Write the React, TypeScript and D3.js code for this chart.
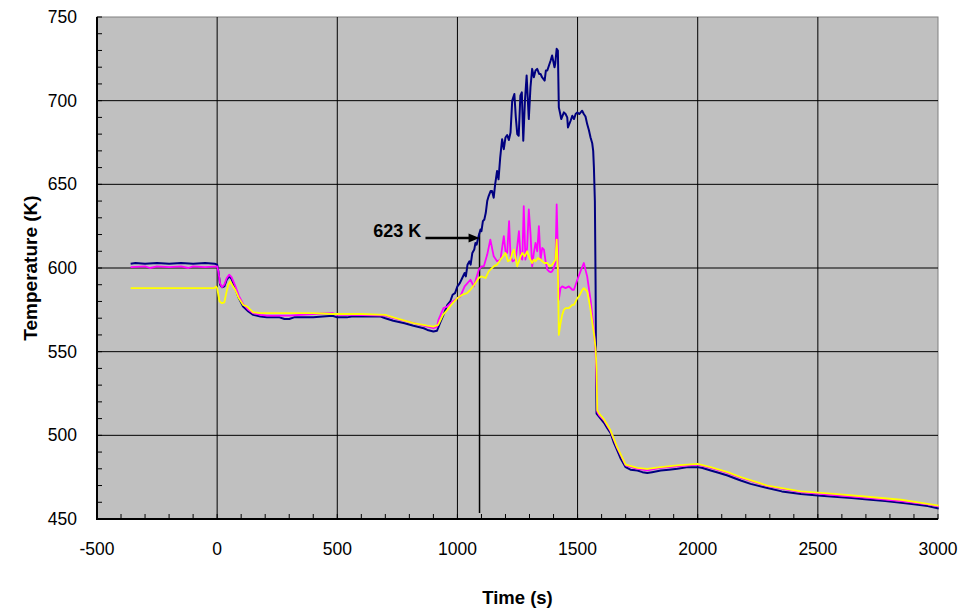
import React from "react";
import * as d3 from "d3";

// series 1 (navy)
const navyTime = [-360, -340, -300, -250, -200, -150, -100, -50, -10, 0, 5, 12, 20, 30, 40, 50, 60, 75, 90, 108, 130, 150, 180, 207, 260, 280, 300, 320, 400, 480, 500, 540, 560, 680, 700, 733, 780, 817, 860, 875, 900, 915, 930, 945, 958, 970, 980, 990, 1000, 1010, 1020, 1030, 1035, 1042, 1050, 1055, 1062, 1070, 1075, 1080, 1088, 1096, 1100, 1106, 1112, 1118, 1124, 1130, 1138, 1144, 1151, 1157, 1165, 1171, 1178, 1186, 1193, 1200, 1207, 1214, 1221, 1228, 1237, 1243, 1249, 1255, 1262, 1268, 1274, 1281, 1288, 1297, 1304, 1311, 1318, 1325, 1332, 1340, 1346, 1352, 1363, 1368, 1374, 1381, 1388, 1394, 1404, 1407, 1413, 1418, 1422, 1428, 1432, 1443, 1450, 1457, 1460, 1471, 1478, 1485, 1492, 1499, 1507, 1519, 1526, 1533, 1540, 1547, 1554, 1561, 1565, 1568, 1572, 1575, 1577, 1579, 1590, 1610, 1625, 1637, 1650, 1665, 1680, 1700, 1720, 1749, 1770, 1790, 1810, 1846, 1880, 1915, 1960, 1999, 2020, 2054, 2090, 2124, 2151, 2179, 2220, 2290, 2350, 2429, 2500, 2568, 2640, 2707, 2780, 2846, 2900, 2957, 3003];
const navyTemp = [602.5, 603, 602.5, 603, 602.5, 603, 602.5, 603, 602.5, 602, 598, 590, 588.5, 589, 593, 595, 593.5, 588, 582, 577, 574, 572, 571, 570.5, 570.5, 569.5, 569.5, 570.5, 570.5, 571.5, 570.5, 570.5, 571, 571, 570, 568.5, 567, 565.5, 564, 563, 562, 562.5, 568, 573, 578, 580, 584, 585, 589, 591, 594, 597, 595, 602, 604, 602, 609, 611, 615, 614, 619, 623, 622, 628, 629, 633, 640, 643, 646, 646, 642, 650, 658, 653, 666, 677, 671, 678, 679.5, 676.5, 681, 700, 704, 690, 680, 679, 703, 705, 676, 700, 715, 689, 708, 719, 714, 718, 719, 716, 716, 714, 712, 718, 718, 721, 724, 727, 720, 722, 731, 730, 696, 692, 689, 693, 692, 690, 684, 688, 691, 689, 692, 693, 692, 694, 692, 690.5, 686, 682.5, 678, 674.5, 670, 660, 640, 590, 540, 513, 511, 507.5, 504, 501.5, 496, 491, 486, 481, 479.5, 479, 478, 477.5, 478, 479, 479.5, 480, 481, 481, 480.5, 479, 477.5, 476, 474.5, 473, 471, 468.5, 466.5, 465, 464, 463.3, 462.5, 461.7, 460.8, 459.7, 458.8, 457.7, 456.3];

// series 2 (magenta)
const magentaTime = [-360, -300, -280, -250, -200, -150, -120, -100, -50, 0, 5, 12, 20, 30, 40, 50, 60, 75, 90, 108, 130, 150, 180, 207, 300, 400, 480, 500, 560, 700, 733, 817, 875, 900, 915, 921, 942, 958, 980, 1000, 1012, 1030, 1054, 1068, 1089, 1100, 1110, 1124, 1137, 1151, 1165, 1179, 1186, 1193, 1200, 1207, 1215, 1221, 1230, 1242, 1249, 1256, 1263, 1270, 1276, 1283, 1290, 1297, 1304, 1311, 1318, 1325, 1332, 1339, 1346, 1353, 1360, 1367, 1374, 1381, 1388, 1394, 1401, 1408, 1413, 1418, 1421, 1422, 1429, 1436, 1450, 1464, 1478, 1485, 1492, 1499, 1512, 1526, 1533, 1540, 1547, 1554, 1561, 1568, 1575, 1579, 1582, 1590, 1610, 1637, 1665, 1700, 1749, 1790, 1846, 1915, 1999, 2054, 2124, 2179, 2290, 2429, 2568, 2707, 2846, 2957, 3003];
const magentaTemp = [600.5, 601, 600, 601, 600.5, 601, 600, 601, 600.5, 601, 598, 591, 588.5, 590, 594, 596, 594.5, 589.5, 583.5, 578.5, 575, 573, 572, 571.5, 571.5, 572.5, 573, 572, 572, 571.5, 570, 567, 565, 564, 565, 569, 576, 577, 580, 582, 583, 589, 593, 589, 599, 601, 601, 608, 617, 607, 604, 605, 612, 619, 610, 609, 628, 607, 604, 605, 613, 622, 606, 605, 637, 605, 612, 635, 621, 601, 609, 615, 610, 625, 605, 612, 611, 604, 599, 598, 597.5, 598, 600, 603, 638, 611, 590, 581, 588, 589, 588, 589, 587, 587, 590, 593, 598, 603, 599, 595, 588, 581, 572, 563, 550, 530, 514, 512, 509, 502.5, 492.5, 482, 480, 479, 480.5, 481.5, 482.5, 480.5, 477.5, 474.5, 469.7, 466, 464.3, 462.7, 460.7, 458.7, 457.5];

// series 3 (yellow)
const yellowTime = [-360, -300, -200, -100, -10, -5, 0, 5, 10, 20, 30, 38, 46, 54, 62, 75, 90, 108, 124, 150, 180, 207, 300, 400, 480, 560, 600, 700, 733, 817, 875, 900, 920, 940, 958, 980, 1000, 1020, 1040, 1054, 1070, 1089, 1100, 1117, 1130, 1151, 1165, 1179, 1190, 1200, 1210, 1221, 1228, 1235, 1242, 1249, 1256, 1263, 1270, 1280, 1290, 1300, 1311, 1318, 1325, 1335, 1346, 1360, 1374, 1385, 1394, 1408, 1413, 1418, 1421, 1422, 1429, 1436, 1443, 1450, 1464, 1478, 1485, 1499, 1506, 1520, 1526, 1533, 1540, 1547, 1554, 1561, 1568, 1575, 1579, 1582, 1590, 1610, 1637, 1665, 1700, 1749, 1790, 1846, 1915, 1999, 2054, 2124, 2179, 2290, 2429, 2568, 2707, 2846, 2957, 3003];
const yellowTemp = [588, 588, 588, 588, 588, 589, 588, 584, 580, 579, 579.5, 585, 590, 592, 590, 587, 582, 578, 577, 573.5, 573, 573, 573, 573, 572.5, 572.5, 572.5, 572, 570.5, 567, 565.5, 565, 566, 572, 575, 579, 582, 584, 585, 587, 590, 594, 595, 594, 598, 601, 602, 605, 607, 609, 604, 605, 609, 611, 606, 601, 604, 607, 609, 607, 610, 606, 603, 605, 604, 606, 605, 603, 603, 601, 602, 605, 617, 600, 570, 560, 567, 572, 575, 576, 576, 578, 578, 582, 583, 587, 588, 587, 586, 581, 575, 568, 561, 552, 540, 515, 513, 509.5, 503, 493, 482.5, 480.5, 480, 481, 482, 483, 481, 478, 475, 470, 466.5, 465, 463.3, 461.5, 459, 458];

const xTicks = [-500, 0, 500, 1000, 1500, 2000, 2500, 3000];
const yTicks = [450, 500, 550, 600, 650, 700, 750];

// annotation
const markTime = 1092;
const markTemp = 618;
const markFromTime = 867;
const markLabel = "623 K";

export default function App() {
  const width = 969;
  const height = 610;
  const plot = { left: 97, right: 938, top: 17, bottom: 519 };

  const x = d3.scaleLinear().domain([-500, 3000]).range([plot.left, plot.right]);
  const y = d3.scaleLinear().domain([450, 750]).range([plot.bottom, plot.top]);

  const line = (ts: number[], vs: number[]) =>
    d3.line<number>()
      .x((_, i) => x(ts[i]))
      .y((v) => y(v))(vs) || "";

  const minorX = d3.range(-500, 3001, 100);
  const minorY = d3.range(450, 751, 10);
  const font = "'Liberation Sans', Arial, sans-serif";

  const series = [
    { t: navyTime, v: navyTemp, color: "#000080", w: 2 },
    { t: magentaTime, v: magentaTemp, color: "#FF00FF", w: 1.8 },
    { t: yellowTime, v: yellowTemp, color: "#FFFF00", w: 1.8 },
  ];

  const ax = x(markTime);
  const ay = y(markTemp);

  return (
    <svg width={width} height={height} style={{ position: "absolute", left: 0, top: 0, background: "#fff" }}>
      <rect x={plot.left} y={plot.top} width={plot.right - plot.left} height={plot.bottom - plot.top} fill="#C0C0C0" stroke="#808080" strokeWidth={1} />

      {/* grid */}
      {xTicks.slice(1, -1).map((t) => (
        <line key={"gx" + t} x1={x(t)} x2={x(t)} y1={plot.top} y2={plot.bottom} stroke="#000" strokeWidth={1} />
      ))}
      {yTicks.slice(1, -1).map((t) => (
        <line key={"gy" + t} x1={plot.left} x2={plot.right} y1={y(t)} y2={y(t)} stroke="#000" strokeWidth={1} />
      ))}

      {/* annotation vertical */}
      <line x1={ax} x2={ax} y1={ay - 5} y2={y(453.6)} stroke="#000" strokeWidth={1.5} />

      {series.map((s, i) => (
        <path key={i} d={line(s.t, s.v)} fill="none" stroke={s.color} strokeWidth={s.w} strokeLinejoin="round" />
      ))}

      {/* arrow */}
      <line x1={x(markFromTime)} x2={ax - 8} y1={ay} y2={ay} stroke="#000" strokeWidth={2.5} />
      <path d={`M${ax},${ay} L${ax - 11},${ay - 4.5} L${ax - 11},${ay + 4.5} Z`} fill="#000" />
      <text x={x(850)} y={ay - 1} textAnchor="end" fontFamily={font} fontWeight="bold" fontSize={18}>{markLabel}</text>

      {/* axes */}
      <line x1={plot.left} x2={plot.left} y1={plot.top} y2={plot.bottom + 1} stroke="#000" strokeWidth={2} />
      <line x1={plot.left - 1} x2={plot.right} y1={plot.bottom} y2={plot.bottom} stroke="#000" strokeWidth={2} />
      {minorY.map((t) => (
        <line key={"my" + t} x1={plot.left} x2={plot.left + 5} y1={y(t)} y2={y(t)} stroke="#000" strokeWidth={1} />
      ))}
      {minorX.map((t) => (
        <line key={"mx" + t} x1={x(t)} x2={x(t)} y1={plot.bottom} y2={plot.bottom - 5} stroke="#000" strokeWidth={1} />
      ))}

      {yTicks.map((t) => (
        <text key={"ly" + t} x={plot.left - 20} y={y(t)} dy="0.35em" textAnchor="end" fontFamily={font} fontSize={17.5}>{t}</text>
      ))}
      {xTicks.map((t) => (
        <text key={"lx" + t} x={x(t)} y={555} textAnchor="middle" fontFamily={font} fontSize={17.5}>{t}</text>
      ))}

      <text x={(plot.left + plot.right) / 2} y={604} textAnchor="middle" fontFamily={font} fontWeight="bold" fontSize={18.5}>Time (s)</text>
      <text transform={`translate(37,${(plot.top + plot.bottom) / 2}) rotate(-90)`} textAnchor="middle" fontFamily={font} fontWeight="bold" fontSize={19}>Temperature (K)</text>
    </svg>
  );
}
